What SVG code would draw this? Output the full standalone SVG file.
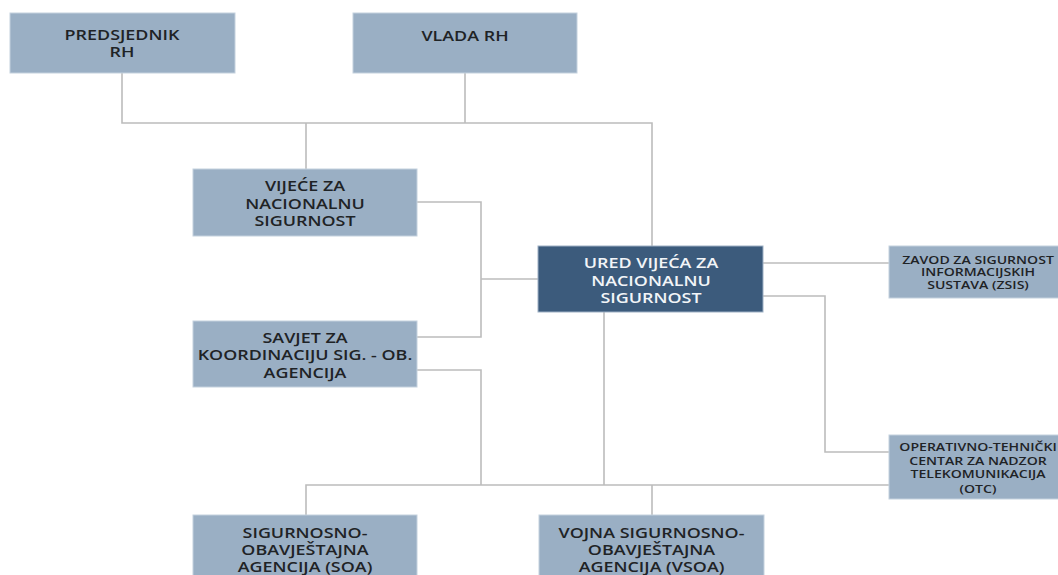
<svg xmlns="http://www.w3.org/2000/svg" width="1058" height="575" viewBox="0 0 1058 575">
<style>
.box{fill:#9aafc4;stroke:#c4d1de;stroke-width:1}
.dark{fill:#3c5b7c;stroke:#9db0c4;stroke-width:1}
.t{font-family:"Open Sans","Liberation Sans",sans-serif;font-weight:600;font-size:14px;fill:#1f2326;text-anchor:middle}
.w{fill:#f2f5f8}
.s{font-size:11px}
.c{fill:none;stroke:#bcbcbc;stroke-width:1.6}
</style>
<rect width="1058" height="575" fill="#ffffff"/>
<g id="connectors" class="c">
<path d="M122,73V123H652V246"/>
<path d="M465,73V123"/>
<path d="M306,123V169"/>
<path d="M417,202H481V337H417"/>
<path d="M481,279H538"/>
<path d="M417,370H481V485"/>
<path d="M604,312V485"/>
<path d="M306,515V485H889"/>
<path d="M652,485V515"/>
<path d="M763,263H889"/>
<path d="M763,296H825V452H889"/>
</g>
<g id="predsjednik">
<rect class="box" x="10" y="13" width="225" height="60"/>
<g transform="translate(122,0) scale(1.28,1)"><text class="t" x="0" y="40.5">PREDSJEDNIK</text><text class="t" x="0" y="57.5">RH</text></g>
</g>
<g id="vlada">
<rect class="box" x="353" y="13" width="224" height="60"/>
<g transform="translate(465,0) scale(1.28,1)"><text class="t" x="0" y="41">VLADA RH</text></g>
</g>
<g id="vijece">
<rect class="box" x="193" y="169" width="224" height="67"/>
<g transform="translate(305,0) scale(1.28,1)"><text class="t" x="0" y="191.5">VIJEĆE ZA</text><text class="t" x="0" y="209">NACIONALNU</text><text class="t" x="0" y="226.5">SIGURNOST</text></g>
</g>
<g id="savjet">
<rect class="box" x="193" y="321" width="224" height="66"/>
<g transform="translate(305,0) scale(1.28,1)"><text class="t" x="0" y="343">SAVJET ZA</text><text class="t" x="0" y="360.5">KOORDINACIJU SIG. - OB.</text><text class="t" x="0" y="378">AGENCIJA</text></g>
</g>
<g id="ured">
<rect class="dark" x="538" y="246" width="225" height="66"/>
<g transform="translate(651,0) scale(1.28,1)"><text class="t w" x="0" y="268.5">URED VIJEĆA ZA</text><text class="t w" x="0" y="286">NACIONALNU</text><text class="t w" x="0" y="303.5">SIGURNOST</text></g>
</g>
<g id="zsis">
<rect class="box" x="889" y="246" width="178" height="52"/>
<g transform="translate(978,0) scale(1.28,1)"><text class="t s" x="0" y="264">ZAVOD ZA SIGURNOST</text><text class="t s" x="0" y="276.5">INFORMACIJSKIH</text><text class="t s" x="0" y="289">SUSTAVA (ZSIS)</text></g>
</g>
<g id="otc">
<rect class="box" x="889" y="435" width="178" height="64"/>
<g transform="translate(978,0) scale(1.28,1)"><text class="t s" x="0" y="451">OPERATIVNO-TEHNIČKI</text><text class="t s" x="0" y="465">CENTAR ZA NADZOR</text><text class="t s" x="0" y="478.5">TELEKOMUNIKACIJA</text><text class="t s" x="0" y="493">(OTC)</text></g>
</g>
<g id="soa">
<rect class="box" x="193" y="515" width="224" height="70"/>
<g transform="translate(305,0) scale(1.28,1)"><text class="t" x="0" y="538.5">SIGURNOSNO-</text><text class="t" x="0" y="555.5">OBAVJEŠTAJNA</text><text class="t" x="0" y="572.5">AGENCIJA (SOA)</text></g>
</g>
<g id="vsoa">
<rect class="box" x="539" y="515" width="225" height="70"/>
<g transform="translate(651.5,0) scale(1.28,1)"><text class="t" x="0" y="538.5">VOJNA SIGURNOSNO-</text><text class="t" x="0" y="555.5">OBAVJEŠTAJNA</text><text class="t" x="0" y="572.5">AGENCIJA (VSOA)</text></g>
</g>
</svg>
